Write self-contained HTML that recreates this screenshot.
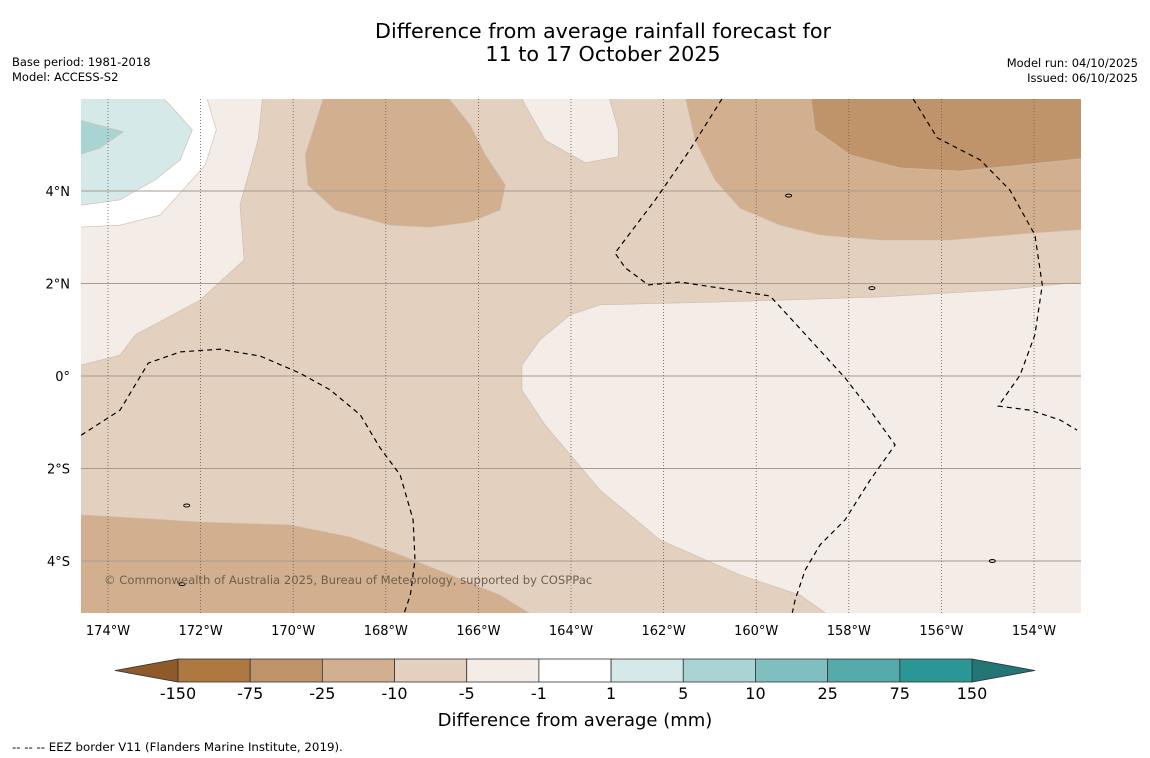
<!DOCTYPE html>
<html><head><meta charset="utf-8"><style>
body{margin:0;background:#fff;width:1150px;height:758px;overflow:hidden;font-family:"DejaVu Sans","Liberation Sans",sans-serif}
svg{position:absolute;left:0;top:0;font-family:"DejaVu Sans","Liberation Sans",sans-serif}
</style></head><body>
<svg width="1150" height="758">
<defs><clipPath id="mc"><rect x="81" y="99" width="1000" height="514"/></clipPath></defs>
<text x="603" y="38" text-anchor="middle" font-size="20.7">Difference from average rainfall forecast for</text>
<text x="603" y="61" text-anchor="middle" font-size="20.7">11 to 17 October 2025</text>
<text x="12" y="66" font-size="11.5">Base period: 1981-2018</text>
<text x="12" y="81" font-size="11.5">Model: ACCESS-S2</text>
<text x="1138" y="67" font-size="11.5" text-anchor="end">Model run: 04/10/2025</text>
<text x="1138" y="82" font-size="11.5" text-anchor="end">Issued: 06/10/2025</text>
<g id="map" clip-path="url(#mc)"></g>
<g id="axes"></g>
<g id="cbar"></g>
<text x="575" y="726" text-anchor="middle" font-size="18">Difference from average (mm)</text>
<text x="12" y="751" font-size="11.8">--  --  -- EEZ border V11 (Flanders Marine Institute, 2019).</text>
</svg>
<script>
const lonTicks=[-174,-172,-170,-168,-166,-164,-162,-160,-158,-156,-154];
const latTicks=[4,2,0,-2,-4];
const levels=["-150","-75","-25","-10","-5","-1","1","5","10","25","75","150"];
const levelColors=["#ae7941","#c0946b","#d2b08f","#e3d0bf","#f4ece6","#ffffff","#d5e9e9","#aad4d4","#80bfbf","#55aaaa","#2b9696"];
const contourFills=["#f4ece6","#ffffff","#d5e9e9","#aad4d4","#f4ece6","#f4ece6","#d2b08f","#d2b08f","#c0946b","#d2b08f"];
const contourShapes=[
[[-175,6.5],[-170.61,6.5],[-170.76,5.10],[-171.15,3.70],[-171.06,2.51],[-172.01,1.64],[-173.41,0.89],[-173.74,0.45],[-175,0.13]],
[[-175,6.5],[-172.01,6.5],[-171.66,5.32],[-171.90,4.56],[-172.87,3.48],[-173.74,3.26],[-175,3.2]],
[[-175,6.5],[-173.31,6.5],[-172.66,5.86],[-172.18,5.32],[-172.44,4.67],[-172.98,4.24],[-173.74,3.81],[-175,3.63]],
[[-175,5.64],[-173.67,5.28],[-174.17,4.93],[-175,4.67]],
[[-165.31,6.5],[-164.99,5.86],[-164.56,5.10],[-163.69,4.61],[-162.98,4.74],[-162.98,5.32],[-163.31,6.5]],
[[-152.5,2.08],[-154.73,1.86],[-157.32,1.71],[-160.78,1.60],[-163.37,1.54],[-164.02,1.32],[-164.67,0.78],[-165.06,0.24],[-165.06,-0.30],[-164.56,-1.06],[-163.37,-2.47],[-162.07,-3.55],[-160.35,-4.30],[-159.05,-4.74],[-157.97,-5.5],[-152.5,-5.5]],
[[-169.2,6.5],[-167.04,6.5],[-166.18,5.43],[-165.85,4.78],[-165.42,4.13],[-165.53,3.59],[-166.18,3.33],[-167.04,3.22],[-167.91,3.26],[-169.09,3.59],[-169.68,4.13],[-169.74,4.78],[-169.53,5.43]],
[[-161.64,6.5],[-161.32,5.10],[-160.89,4.24],[-160.35,3.63],[-159.48,3.26],[-158.62,3.05],[-157.32,2.94],[-155.81,2.94],[-154.08,3.09],[-152.5,3.2],[-152.5,6.5]],
[[-158.88,6.5],[-158.73,5.32],[-157.97,4.78],[-156.89,4.50],[-155.60,4.43],[-154.30,4.56],[-152.5,4.75],[-152.5,6.5]],
[[-175,-2.98],[-173.09,-3.09],[-172.01,-3.16],[-170.07,-3.22],[-168.77,-3.48],[-167.69,-3.87],[-166.61,-4.30],[-165.53,-4.74],[-164.3,-5.5],[-175,-5.5]]
];
const eezLines=[
[[-174.58,-1.28],[-173.74,-0.74],[-173.13,0.28],[-172.44,0.52],[-171.58,0.58],[-170.71,0.43],[-169.85,0.06],[-169.20,-0.30],[-168.55,-0.84],[-168.12,-1.56],[-167.69,-2.14],[-167.41,-3.11],[-167.37,-3.98],[-167.47,-4.74],[-167.60,-5.12]],
[[-160.74,5.99],[-161.43,4.89],[-162.18,3.81],[-163.05,2.66],[-162.83,2.34],[-162.33,1.97],[-161.64,2.03],[-160.78,1.90],[-159.70,1.73],[-158.83,0.78],[-158.08,-0.04],[-157.54,-0.74],[-157.0,-1.49],[-157.54,-2.25],[-158.08,-3.11],[-158.62,-3.65],[-158.94,-4.19],[-159.16,-4.84],[-159.22,-5.12]],
[[-156.61,5.99],[-156.09,5.15],[-155.16,4.67],[-154.52,4.02],[-153.98,3.05],[-153.82,1.97],[-153.98,0.89],[-154.30,0.02],[-154.77,-0.65],[-154.08,-0.74],[-153.44,-0.95],[-153.07,-1.17]]
];
const islands=[[-172.3,-2.8],[-157.5,1.9],[-159.3,3.9],[-172.4,-4.5],[-154.9,-4.0]];
const X=lon=>108+(lon+174)*46.3;
const Y=lat=>376-lat*46.25;
const NS="http://www.w3.org/2000/svg";
function mk(t,a,p){const e=document.createElementNS(NS,t);for(const k in a)e.setAttribute(k,a[k]);p.appendChild(e);return e;}
const map=document.getElementById('map');
const bg=mk('rect',{x:81,y:99,width:1000,height:514,fill:"#e3d0bf"},map);


contourShapes.forEach((s,i)=>{
 const p=mk('polygon',{points:s.map(q=>X(q[0]).toFixed(1)+','+Y(q[1]).toFixed(1)).join(' '),fill:contourFills[i],stroke:"#c8bcb0","stroke-width":0.6},map);
 
 
});
latTicks.forEach(l=>{
 const g=mk('line',{x1:81,x2:1081,y1:Y(l),y2:Y(l),stroke:"#a89a8c","stroke-width":1},map);
 
 
});
lonTicks.forEach(l=>{
 const g=mk('line',{x1:X(l),x2:X(l),y1:99,y2:613,stroke:"#6a5a4a","stroke-width":0.8,"stroke-dasharray":"1,2"},map);
 
 
});
eezLines.forEach(s=>{
 const p=mk('polyline',{points:s.map(q=>X(q[0]).toFixed(1)+','+Y(q[1]).toFixed(1)).join(' '),fill:"none",stroke:"#000","stroke-width":1.2,"stroke-dasharray":"5,4"},map);
 
 
});
islands.forEach(q=>{
 const e=mk('ellipse',{cx:X(q[0]),cy:Y(q[1]),rx:3,ry:1.5,fill:"none",stroke:"#000","stroke-width":1},map);
 
 
});
const cr=mk('text',{x:104,y:584,"font-size":11.6,fill:"#6e6050"},map);
cr.textContent="© Commonwealth of Australia 2025, Bureau of Meteorology, supported by COSPPac";


const ax=document.getElementById('axes');
lonTicks.forEach(l=>{
 const t=mk('text',{x:X(l),y:635,"font-size":13,"text-anchor":"middle"},ax);
 t.textContent=Math.abs(l)+"°W";
 
 
});
latTicks.forEach(l=>{
 const t=mk('text',{x:70,y:Y(l)+5,"font-size":13,"text-anchor":"end"},ax);
 t.textContent=l===0?"0°":Math.abs(l)+"°"+(l>0?"N":"S");
 
 
});
const cb=document.getElementById('cbar');
const bw=(972-178)/levelColors.length;
const lt=mk('polygon',{points:"178,659 115,670.5 178,682",fill:"#8f5a2a",stroke:"#333","stroke-width":0.8},cb);


const rt=mk('polygon',{points:"972,659 1035,670.5 972,682",fill:"#237676",stroke:"#333","stroke-width":0.8},cb);


levelColors.forEach((c,i)=>{
 const r=mk('rect',{x:178+i*bw,y:659,width:bw,height:23,fill:c,stroke:"#333","stroke-width":0.8},cb);
 
 
});
levels.forEach((v,i)=>{
 const t=mk('text',{x:178+i*bw,y:699,"font-size":16,"text-anchor":"middle"},cb);
 t.textContent=v;
 
 
});
</script>
</body></html>
